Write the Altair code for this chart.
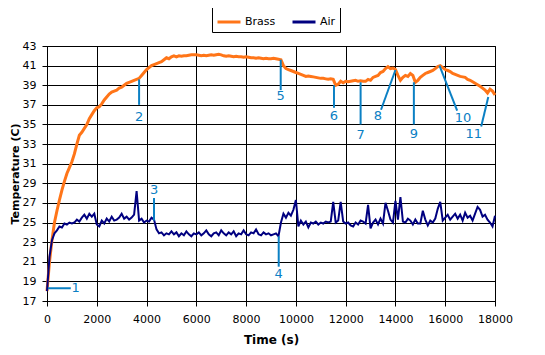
import altair as alt
import pandas as pd

ORANGE = "#FF7518"
NAVY = "#000080"
BLUE = "#0B80C4"
FONT = "DejaVu Sans"

time_s = list(range(0, 18001, 100))

brass_c = [
    18.0, 21.0, 23.2, 25.0, 26.2, 27.3, 28.3, 29.2, 30.0, 30.6,
    31.2, 32.0, 33.0, 33.9, 34.2, 34.6, 35.0, 35.6, 36.0, 36.4,
    36.7, 36.8, 37.1, 37.5, 37.8, 38.1, 38.3, 38.4, 38.5, 38.7,
    38.8, 39.0, 39.2, 39.3, 39.4, 39.5, 39.6, 39.7, 40.0, 40.3,
    40.6, 40.8, 41.0, 41.1, 41.2, 41.3, 41.4, 41.6, 41.8, 41.7,
    41.9, 42.0, 41.9, 42.0, 41.95, 42.0, 42.0, 42.05, 42.1, 42.1,
    42.1, 42.05, 42.0, 42.05, 42.0, 42.05, 42.1, 42.05, 42.1, 42.15,
    42.1, 42.0, 41.95, 42.0, 41.95, 41.9, 41.95, 41.9, 41.9, 41.85,
    41.9, 41.85, 41.8, 41.8, 41.75, 41.8, 41.75, 41.7, 41.75, 41.7,
    41.7, 41.75, 41.7, 41.65, 41.6, 41.0, 40.7, 40.6, 40.5, 40.4,
    40.3, 40.2, 40.1, 40.0, 39.9, 39.95, 39.9, 39.85, 39.8, 39.75,
    39.7, 39.7, 39.65, 39.6, 39.65, 39.6, 39.0, 39.1, 39.4, 39.25,
    39.4, 39.35, 39.4, 39.45, 39.5, 39.4, 39.45, 39.4, 39.4, 39.6,
    39.5, 39.8, 39.9, 40.0, 40.3, 40.4, 40.7, 40.9, 40.7, 40.75,
    40.6, 40.0, 39.5, 39.8, 40.0, 39.9, 40.2, 40.0, 39.3, 39.5,
    39.8, 40.0, 40.2, 40.3, 40.4, 40.5, 40.7, 40.9, 41.0, 40.8,
    40.6, 40.5, 40.4, 40.2, 40.1, 40.0, 39.9, 39.85, 39.8, 39.6,
    39.5, 39.35, 39.2, 39.05, 38.9, 38.7, 38.5, 38.2, 38.6, 38.4,
    38.0,
]

air_c = [
    18.0, 21.5, 23.2, 23.9, 24.2, 24.6, 24.5, 24.9, 24.8, 25.0,
    24.9, 25.0, 25.3, 25.1, 25.5, 25.8, 25.4, 25.9, 25.6, 25.9,
    24.8, 24.6, 25.2, 24.9, 25.4, 25.1, 25.6, 25.2, 25.3, 25.5,
    25.9, 25.4, 25.6, 25.3, 25.5, 25.8, 28.2, 25.2, 25.4, 25.0,
    25.2, 25.1, 25.5, 25.3, 24.3, 23.9, 24.0, 23.7, 23.9, 23.8,
    24.1, 23.8, 24.0, 23.6, 23.9, 23.7, 24.1, 23.8, 23.6, 23.9,
    23.8, 24.0, 23.7, 23.9, 24.2, 23.8, 23.6, 23.9, 24.0, 23.7,
    24.2, 23.9, 23.7, 24.0, 23.8, 24.1, 23.6, 23.9, 23.8, 24.2,
    23.8, 23.7, 24.0, 23.9, 24.3, 23.8, 23.7, 24.0, 23.8, 23.9,
    23.7, 23.8, 23.9, 23.6, 25.0, 25.9, 25.5, 26.0, 25.7, 26.3,
    27.3, 24.6, 25.2, 24.8, 25.1, 24.5, 25.0, 24.9, 25.1, 24.8,
    25.0, 24.9, 25.1, 25.0, 25.1, 27.1, 25.0, 25.2, 27.1, 25.1,
    24.9, 25.0, 24.7, 24.6, 25.0, 24.8, 25.2, 25.1, 24.9, 26.8,
    24.4, 25.0, 25.3, 24.8, 25.4, 24.9, 27.0, 26.2, 25.3, 25.0,
    27.2, 25.3, 27.6, 25.1, 25.0, 25.4, 25.2, 24.8, 25.3, 24.9,
    24.9, 26.2, 25.3, 24.7, 25.2, 25.0, 25.4, 26.4, 27.1, 25.2,
    25.5, 25.8, 25.3, 25.6, 25.9, 25.4, 25.8, 25.2, 26.0, 25.5,
    25.7, 25.2, 25.9, 26.6, 26.3, 25.6, 25.8, 25.3, 25.0, 24.6,
    25.7,
]

ann_id = ["1", "2", "3", "4", "5", "6", "7", "8", "9", "10", "11"]
ann_t = [38, 3700, 4300, 9310, 9390, 11530, 12600, 14000, 14740, 15770, 17730]
ann_v = [18.3, 39.6, 25.2, 23.6, 41.6, 39.0, 39.3, 40.55, 39.3, 41.0, 37.8]
ann_t2 = [955, 3700, 4300, 9310, 9390, 11530, 12600, 13420, 14740, 16480, 17445]
ann_v2 = [18.3, 37.0, 27.5, 20.5, 38.5, 36.7, 35.0, 36.5, 35.0, 36.4, 34.8]
lab_t = [1150, 3700, 4300, 9310, 9390, 11530, 12600, 13290, 14740, 16710, 17150]
lab_v = [18.3, 35.8, 28.3, 19.75, 37.9, 35.9, 33.9, 35.9, 34.0, 35.7, 34.0]

x_ticks = [0, 2000, 4000, 6000, 8000, 10000, 12000, 14000, 16000, 18000]
y_ticks = [17, 19, 21, 23, 25, 27, 29, 31, 33, 35, 37, 39, 41, 43]

brass_df = pd.DataFrame({"t": time_s, "v": brass_c, "series": "Brass"})
air_df = pd.DataFrame({"t": time_s, "v": air_c, "series": "Air"})
rule_df = pd.DataFrame({"t": ann_t, "v": ann_v, "t2": ann_t2, "v2": ann_v2})
lab_df = pd.DataFrame({"t": lab_t, "v": lab_v, "id": ann_id})

x = alt.X("t:Q", scale=alt.Scale(domain=[0, 18000], nice=False),
          axis=alt.Axis(values=x_ticks, format="d", title="Time (s)",
                        labelPadding=7, titlePadding=10,
                        labelOverlap=False, labelFlush=False))
y = alt.Y("v:Q", scale=alt.Scale(domain=[17, 43], nice=False, zero=False),
          axis=alt.Axis(values=y_ticks, format="d", title="Temperature (C)",
                        labelPadding=6, titlePadding=2, titleFontSize=11,
                        labelOverlap=False, labelFlush=False,
                        labelBound=False))

color = alt.Color(
    "series:N",
    scale=alt.Scale(domain=["Brass", "Air"], range=[ORANGE, NAVY]),
    legend=alt.Legend(
        title=None, orient="none", legendX=165, legendY=-41,
        direction="horizontal", symbolType="stroke", symbolSize=529,
        symbolStrokeWidth=3, strokeColor="black", fillColor="white",
        padding=4, columnPadding=10, labelOffset=3,
        labelFont=FONT, labelFontSize=11, labelColor="black",
    ),
)

brass = alt.Chart(brass_df).mark_line(strokeWidth=3).encode(x=x, y=y, color=color)
air = alt.Chart(air_df).mark_line(strokeWidth=2).encode(x=x, y=y, color=color)
rules = alt.Chart(rule_df).mark_rule(color=BLUE, strokeWidth=2).encode(
    x=x, y=y, x2="t2:Q", y2="v2:Q")
labels = alt.Chart(lab_df).mark_text(
    color=BLUE, font=FONT, fontSize=13, baseline="middle", align="center"
).encode(x=x, y=y, text="id:N")

chart = alt.layer(brass, air, rules, labels).properties(
    width=448, height=255,
    autosize=alt.AutoSizeParams(type="none"),
    padding={"left": 39, "top": 38, "right": 42, "bottom": 46},
).configure_view(
    stroke="black", strokeWidth=1
).configure_axis(
    grid=True, gridColor="black", gridOpacity=1, gridWidth=1,
    domainColor="black", tickColor="black", tickSize=5,
    labelFont=FONT, labelFontSize=11, labelColor="black",
    titleFont=FONT, titleFontSize=12, titleFontWeight="bold", titleColor="black",
    labelOverlap=False,
).configure_axisY(
    labelOverlap=False, titleFontSize=11,
)

chart.save("out.html", embed_options={"renderer": "svg", "actions": False})
